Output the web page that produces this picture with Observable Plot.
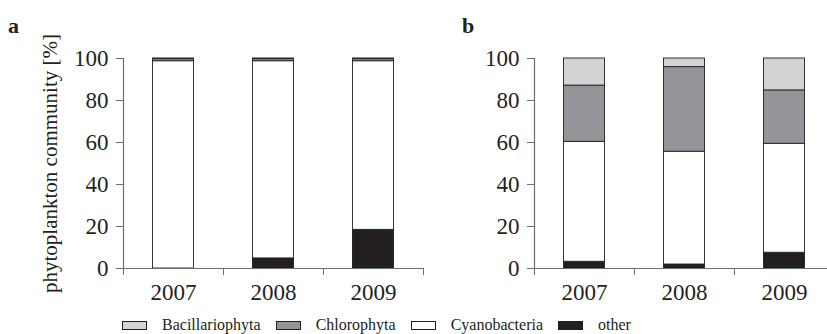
<!DOCTYPE html>
<html>
<head>
<meta charset="utf-8">
<script src="https://cdn.jsdelivr.net/npm/d3@7"></script>
<script src="https://cdn.jsdelivr.net/npm/@observablehq/plot@0.6"></script>
<style>
  html, body { margin: 0; padding: 0; background: #fff; }
  body { width: 827px; height: 334px; overflow: hidden; position: relative; font-family: "Liberation Serif", "Times New Roman", serif; color: #231f20; }
  .panel { position: absolute; top: 0; }
  .plabel { position: absolute; font-weight: bold; font-size: 22px; line-height: 22px; }
  #legend { position: absolute; top: 316px; left: 122px; display: flex; align-items: center; font-size: 16px; line-height: 18px; white-space: nowrap; }
  .sw { display: inline-block; width: 25px; height: 9px; box-sizing: border-box; border: 1px solid #231f20; margin-right: 15px; }
  .item { display: flex; align-items: center; margin-right: 15px; }
</style>
</head>
<body>
<div class="plabel" style="left:8px; top:15px;">a</div>
<div class="plabel" style="left:462px; top:15px;">b</div>
<div id="pa" class="panel" style="left:0px;"></div>
<div id="pb" class="panel" style="left:424px;"></div>
<div id="legend"></div>
<script>
// ---- data ----
const years = [2007, 2008, 2009];
const stackOrder = ["other", "Cyanobacteria", "Chlorophyta", "Bacillariophyta"]; // bottom -> top
const legendOrder = ["Bacillariophyta", "Chlorophyta", "Cyanobacteria", "other"];
const yTicks = [0, 20, 40, 60, 80, 100];
const yLabel = "phytoplankton community [%]";

// panel a
const aOther  = [0.0, 4.8, 18.4];
const aCyano  = [98.7, 93.9, 80.3];
const aChloro = [1.0, 1.0, 1.0];
const aBacil  = [0.3, 0.3, 0.3];

// panel b
const bOther  = [3.2, 1.9, 7.5];
const bCyano  = [57.1, 53.7, 51.9];
const bChloro = [26.8, 40.3, 25.4];
const bBacil  = [12.9, 4.1, 15.2];

// ---- styles ----
const palette = ["#d1d3d4", "#939598", "#ffffff", "#231f20"];
const axisColor = "#6d6e71";
const ink = "#231f20";

function buildRows(series) {
  const rows = [];
  years.forEach((year, i) => {
    let acc = 0;
    stackOrder.forEach(g => {
      const v = series[g][i];
      if (v > 0) rows.push({year, group: g, y1: acc, y2: acc + v});
      acc += v;
    });
  });
  return rows;
}

const boundaries = years.map(y => y - 0.5).concat([years[years.length - 1] + 0.5]);

function panel(series, opts) {
  const rows = buildRows(series);
  return Plot.plot({
    width: opts.width,
    height: 300,
    marginLeft: opts.marginLeft,
    marginRight: opts.marginRight,
    marginTop: 58,
    marginBottom: 32,
    x: {domain: [years[0] - 0.5, years[years.length - 1] + 0.5], range: opts.range},
    y: {domain: [0, 100]},
    color: {domain: legendOrder, range: palette},
    style: {fontFamily: "'Liberation Serif', serif", fontSize: "23px", color: ink, background: "transparent", overflow: "visible"},
    marks: [
      Plot.rect(rows, {x1: d => d.year - 0.205, x2: d => d.year + 0.205, y1: "y1", y2: "y2", fill: "group", stroke: ink, strokeWidth: 0.9}),
      Plot.ruleY([0], {stroke: axisColor, strokeWidth: 1.2}),
      Plot.ruleX([years[0] - 0.5], {y1: 0, y2: 100, stroke: axisColor, strokeWidth: 1.2}),
      Plot.axisY({ticks: yTicks, tickSize: 7, tickPadding: 8, label: null, stroke: axisColor, fill: ink, fontSize: 23}),
      Plot.axisX({ticks: boundaries, tickSize: 7, tickFormat: () => "", label: null, stroke: axisColor}),
      Plot.axisX({ticks: years, tickSize: 0, tickPadding: 15, tickFormat: d => String(d), label: null, fill: ink, fontSize: 23}),
      ...(opts.showLabel ? [Plot.text([yLabel], {frameAnchor: "left", dx: -73, rotate: -90, textAnchor: "middle", fontSize: 21, fill: ink})] : [])
    ]
  });
}

document.getElementById("pa").append(panel(
  {other: aOther, Cyanobacteria: aCyano, Chlorophyta: aChloro, Bacillariophyta: aBacil},
  {width: 424, marginLeft: 123, marginRight: 1, range: [123, 423], showLabel: true}
));
document.getElementById("pb").append(panel(
  {other: bOther, Cyanobacteria: bCyano, Chlorophyta: bChloro, Bacillariophyta: bBacil},
  {width: 403, marginLeft: 110, marginRight: 0, range: [110, 410], showLabel: false}
));

// legend
const leg = document.getElementById("legend");
legendOrder.forEach((g, i) => {
  const item = document.createElement("span");
  item.className = "item";
  const sw = document.createElement("span");
  sw.className = "sw";
  sw.style.background = palette[i];
  const t = document.createElement("span");
  t.textContent = g;
  item.append(sw, t);
  leg.append(item);
});
</script>
</body>
</html>
